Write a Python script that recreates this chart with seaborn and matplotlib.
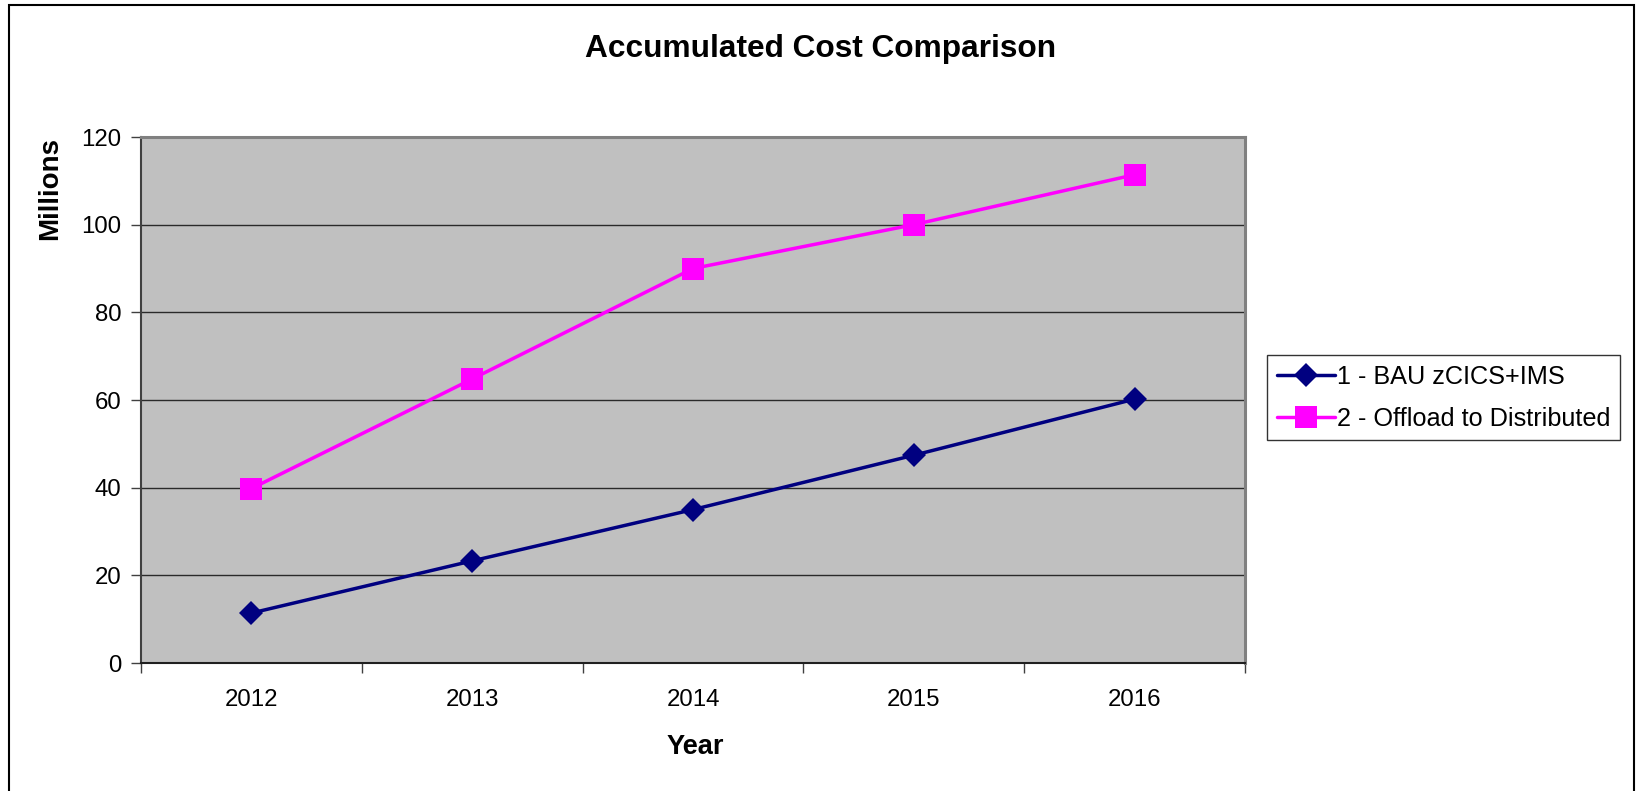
import matplotlib
matplotlib.use("Agg")
import matplotlib.pyplot as plt
import seaborn as sns
import pandas as pd
from matplotlib.patches import Rectangle
from matplotlib.lines import Line2D
from matplotlib.ticker import FixedLocator, NullFormatter

years = ["2012", "2013", "2014", "2015", "2016"]
series_names = ["1 - BAU zCICS+IMS", "2 - Offload to Distributed"]
bau = [11.4, 23.3, 35.0, 47.4, 60.2]
offload = [39.8, 64.8, 90.0, 100.0, 111.4]
y_ticks = [0, 20, 40, 60, 80, 100, 120]

sns.set_theme(style="white")
plt.rcParams["font.family"] = ["Liberation Sans", "DejaVu Sans"]
plt.rcParams["text.color"] = "black"
plt.rcParams["xtick.color"] = "black"
plt.rcParams["ytick.color"] = "black"
plt.rcParams["xtick.labelcolor"] = "black"
plt.rcParams["ytick.labelcolor"] = "black"

df = pd.DataFrame({
    "pos": list(range(len(years))) * 2,
    "value": bau + offload,
    "series": [series_names[0]] * len(years) + [series_names[1]] * len(years),
})

fig = plt.figure(figsize=(16.36, 7.91), dpi=100)
ax = fig.add_axes([0.0862, 0.1618, 0.761 - 0.0862, 0.8268 - 0.1618])
ax.set_facecolor("#C0C0C0")

palette = {series_names[0]: "#000080", series_names[1]: "#FF00FF"}
markers = {series_names[0]: "D", series_names[1]: "s"}
msizes = [12, 16]
sns.lineplot(data=df, x="pos", y="value", hue="series", style="series",
             palette=palette, markers=markers, dashes=False, linewidth=2.5,
             markeredgewidth=0, ax=ax, legend=False, zorder=5)
for line, ms in zip(ax.lines, msizes):
    line.set_markersize(ms)

ax.set_xlim(-0.5, len(years) - 0.5)
ax.set_ylim(0, 120)
ax.set_yticks(y_ticks)
ax.set_yticklabels([str(v) for v in y_ticks], fontsize=17.3)
ax.yaxis.grid(True, color="#2a2a2a", linewidth=1.0)
ax.set_axisbelow(True)

ax.xaxis.set_major_locator(FixedLocator([i - 0.5 for i in range(len(years) + 1)]))
ax.xaxis.set_major_formatter(NullFormatter())
ax.xaxis.set_minor_locator(FixedLocator(list(range(len(years)))))
ax.set_xticklabels(years, minor=True, fontsize=17.3)
ax.tick_params(axis="x", which="major", direction="out", length=7, width=1, color="#404040", bottom=True)
ax.tick_params(axis="x", which="minor", length=0, pad=19, bottom=True)
ax.tick_params(axis="y", direction="out", length=7, width=1, color="#404040", pad=7, left=True)
ax.set_xlabel("")
ax.set_ylabel("")

for s in ["top", "right"]:
    ax.spines[s].set_color("#808080")
    ax.spines[s].set_linewidth(2.2)
ax.spines["left"].set_color("#404040")
ax.spines["left"].set_linewidth(1.5)
ax.spines["bottom"].set_color("#202020")
ax.spines["bottom"].set_linewidth(1.5)

handles = [Line2D([], [], color=palette[n], marker=markers[n], markersize=ms, linewidth=2.5,
                  markeredgewidth=0) for n, ms in zip(series_names, msizes)]
leg = fig.legend(handles, series_names, loc="upper left",
                 bbox_to_anchor=(1267 / 1636, 1 - 355 / 791), bbox_transform=fig.transFigure,
                 borderaxespad=0, frameon=True, fancybox=False, fontsize=18.2,
                 handlelength=2.3, handletextpad=0.1, labelspacing=0.72, borderpad=0.38)
leg.get_frame().set_edgecolor("black")
leg.get_frame().set_linewidth(1.0)

fig.text(0.5015, 0.938, "Accumulated Cost Comparison", ha="center", va="center",
         fontsize=22.8, fontweight="bold")
fig.text(50 / 1636, 1 - 188 / 791, "Millions", rotation=90, ha="center", va="center",
         fontsize=20, fontweight="bold")
fig.text(695 / 1636, 1 - 747 / 791, "Year", ha="center", va="center",
         fontsize=19.6, fontweight="bold")

fig.patches.append(Rectangle((9 / 1636, -0.05), (1634 - 9) / 1636, 1.05 - 5 / 791,
                             transform=fig.transFigure, fill=False, edgecolor="black",
                             linewidth=1.5, figure=fig))

fig.savefig("out.png", dpi=100)
